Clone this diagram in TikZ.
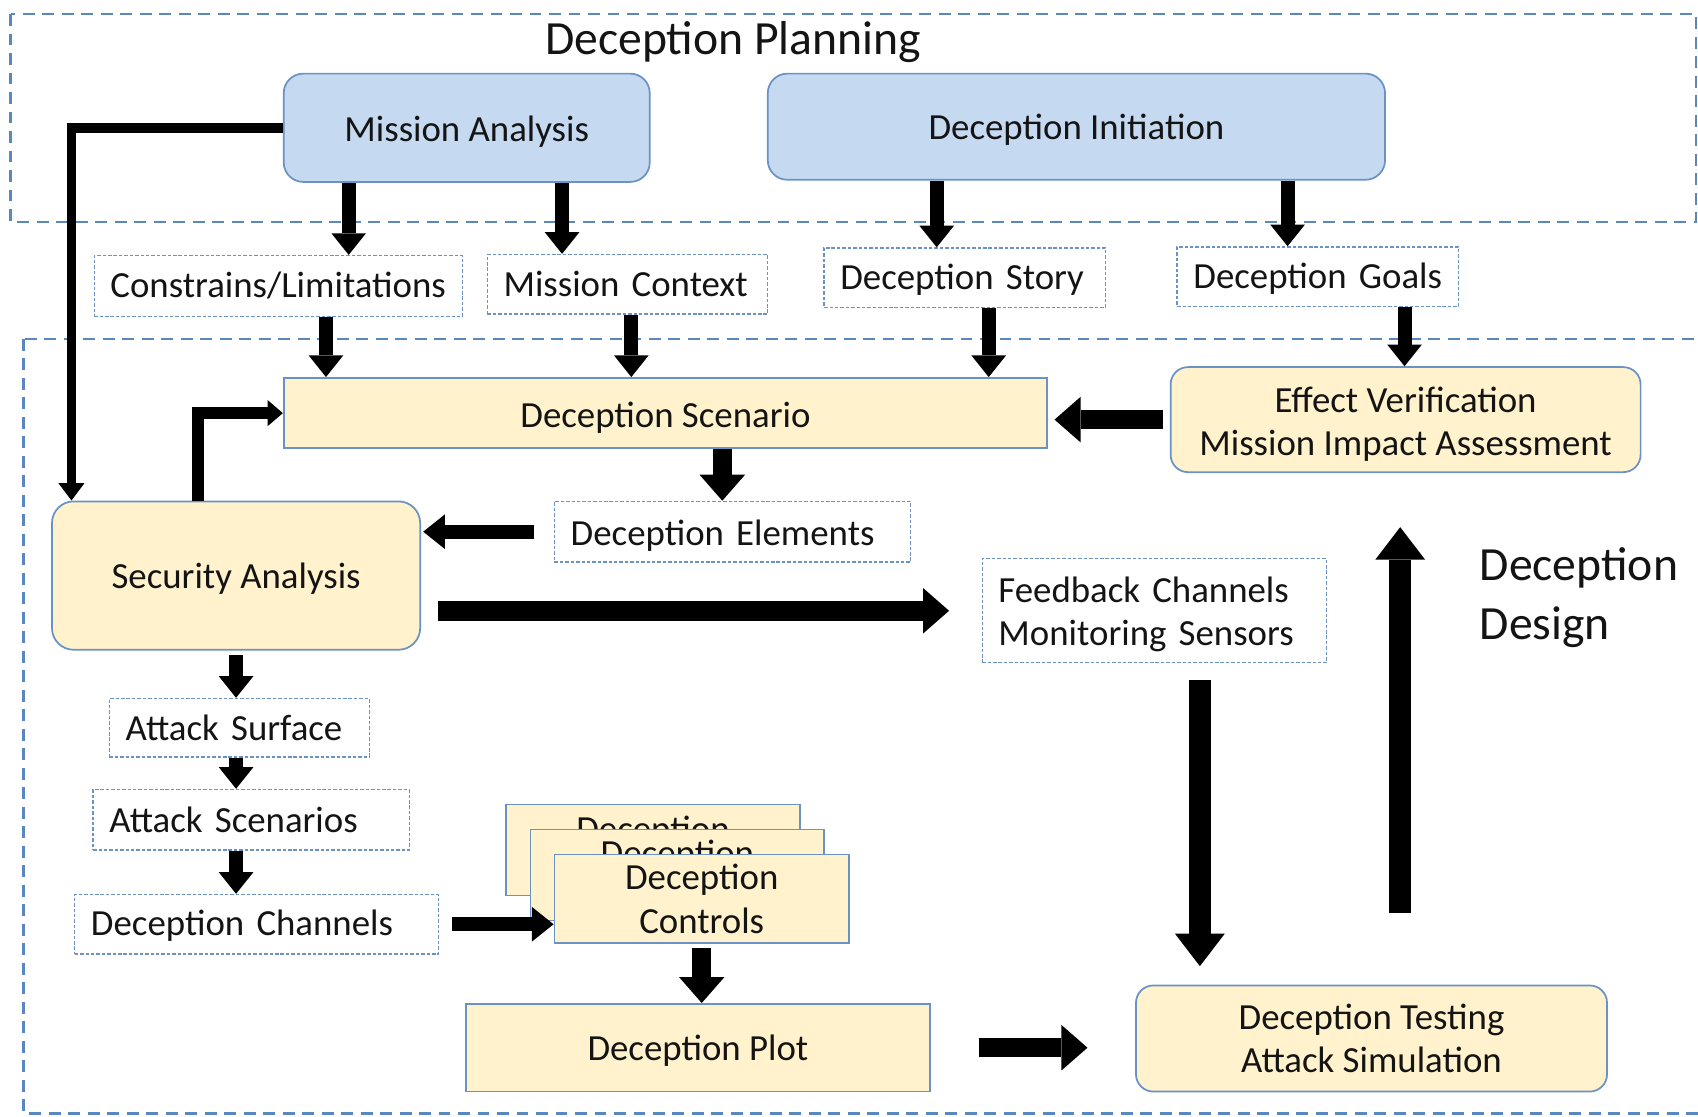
\documentclass[tikz,border=0pt]{standalone}
\usepackage{fontspec}
\setmainfont{Carlito}
\usetikzlibrary{arrows.meta}
\definecolor{regionblue}{HTML}{5A88BE}
\definecolor{edgeblue}{HTML}{6A92C4}
\definecolor{fillblue}{HTML}{C5D9F0}
\definecolor{fillyellow}{HTML}{FFF2CC}
\begin{document}
\begin{tikzpicture}[x=0.5pt,y=-0.5pt,
  every node/.style={font=\fontsize{17}{20}\selectfont, text=black!92},
  region/.style={draw=regionblue, line width=1.25pt, dash pattern=on 5.5pt off 3.5pt},
  bluebox/.style={draw=edgeblue, fill=fillblue, line width=0.8pt, rounded corners=9pt,
    inner sep=0pt, align=center},
  yelbox/.style={draw=edgeblue, fill=fillyellow, line width=0.8pt, inner sep=0pt, align=center},
  yelround/.style={yelbox, rounded corners=8pt},
  dotbox/.style={draw=edgeblue, fill=white, line width=0.6pt, dash pattern=on 1.6pt off 0.9pt,
    inner xsep=7.5pt, inner ysep=0pt, align=left},
  % lowers the first text line a little by a taller first-line strut
  lower/.style={execute at begin node={\rule{0pt}{#1}}},
  title/.style={font=\fontsize{22}{27.5}\selectfont, inner sep=0pt, align=left},
  arrS/.style={line width=6.5pt, -{Triangle[width=16pt,length=10pt,line width=0pt]}},
  arrM/.style={line width=9pt, -{Triangle[width=21pt,length=12pt,line width=0pt]}},
  arrL/.style={line width=10pt, -{Triangle[width=23pt,length=15pt,line width=0pt]}},
  arrT/.style={line width=4.5pt, -{Triangle[width=12pt,length=8pt,line width=0pt]}},
  arrE/.style={line width=5.5pt, -{Triangle[width=12pt,length=7pt,line width=0pt]}},
]
\useasboundingbox (0,0) rectangle (1568,1031);

% planning and design regions
\draw[region] (10,13) rectangle (1566,205);
\draw[region] (22,313) rectangle (1572,1028);
\node[title] (tplan) at (677,39) {Deception Planning};
\node[title, anchor=west] (tdesign) at (1366,552) {Deception\\Design};

% planning stage
\node[bluebox, lower=15pt, minimum width=169pt, minimum height=50pt] (MA) at (431,118) {Mission Analysis};
\node[bluebox, lower=15pt, minimum width=285pt, minimum height=49pt] (DI) at (994,117) {Deception Initiation};

% planning outputs
\node[dotbox, minimum height=28pt, text width=155pt] (CL) at (257,264) {Constrains/Limitations};
\node[dotbox, minimum height=27.5pt, text width=114.5pt] (MC) at (579.5,262.5) {Mission Context};
\node[dotbox, lower=14pt, minimum height=27.5pt, text width=115pt] (DSt) at (891,256.5) {Deception Story};
\node[dotbox, lower=14pt, minimum height=27.5pt, text width=115pt] (DG) at (1217,255.5) {Deception Goals};

% design stage
\node[yelbox, lower=16pt, minimum width=352.5pt, minimum height=32.5pt] (DSc) at (614.5,381.5) {Deception Scenario};
\node[yelround, minimum width=217pt, minimum height=48.5pt] (EV) at (1298,387.5) {\rule{0pt}{16pt}Effect Verification\\Mission Impact Assessment};
\node[dotbox, lower=15.5pt, minimum height=28pt, text width=149.5pt] (DE) at (676.5,491) {Deception Elements};
\node[yelround, lower=15pt, rounded corners=10pt, minimum width=170pt, minimum height=68.5pt] (SA) at (218,531.5) {Security Analysis};
\node[dotbox, lower=15pt, minimum height=48pt, text width=144pt] (FB) at (1066,564) {Feedback Channels\\Monitoring Sensors};
\node[dotbox, minimum height=27pt, text width=105pt] (AS) at (221,672) {Attack Surface};
\node[dotbox, minimum height=28pt, text width=131pt] (ASc) at (232,757) {Attack Scenarios};
\node[dotbox, lower=13.5pt, minimum height=27.5pt, text width=153pt] (DCh) at (237,853.5) {Deception Channels};

% stacked deception controls
\node[yelbox, minimum width=136pt, minimum height=42pt] (CtrlA) at (603,785) {Deception\\\phantom{Controls}};
\node[yelbox, minimum width=135.5pt, minimum height=42pt] (CtrlB) at (625.5,808) {Deception\\\phantom{Controls}};
\node[yelbox, minimum width=136pt, minimum height=41pt] (Ctrl) at (648,830) {Deception\\Controls};

\node[yelbox, lower=15pt, minimum width=214.5pt, minimum height=40.5pt] (DP) at (644.5,967.5) {Deception Plot};
\node[yelround, minimum width=217.5pt, minimum height=49pt] (DT) at (1266.5,959) {Deception Testing\\Attack Simulation};

% connectors from the planning stage
\draw[arrS] (322,0 |- MA.south) -- (322,0 |- CL.north);
\draw[arrS] (519,0 |- MA.south) -- (519,0 |- MC.north);
\draw[arrS] (865,0 |- DI.south) -- (865,0 |- DSt.north);
\draw[arrS] (1189,0 |- DI.south) -- (1189,0 |- DG.north);
\draw[arrS] (301,0 |- CL.south) -- (301,0 |- DSc.north);
\draw[arrS] (583,0 |- MC.south) -- (583,0 |- DSc.north);
\draw[arrS] (913,0 |- DSt.south) -- (913,0 |- DSc.north);
\draw[arrS] (1297,0 |- DG.south) -- (1297,0 |- EV.north);
\draw[arrT, line join=miter] (MA.west) -| (66,0 |- SA.north);

% connectors within the design stage
\draw[arrM, shorten <=3pt, shorten >=3pt] (EV.west) -- (DSc.east |- EV.west);
\draw[arrM] (667,0 |- DSc.south) -- (667,0 |- DE.north);
\draw[arrS, shorten <=9pt, shorten >=1pt] (DE.west) -- (SA.east |- DE.west);
\draw[arrE, line join=miter] (183,0 |- SA.north) |- (DSc.west);
\draw[arrM, shorten <=8pt, shorten >=15pt] (SA.east |- FB.west) -- (FB.west);
\draw[arrS, shorten <=2pt] (SA.south) -- (SA.south |- AS.north);
\draw[arrS] (218,0 |- AS.south) -- (218,0 |- ASc.north);
\draw[arrS] (218,0 |- ASc.south) -- (218,0 |- DCh.north);
\draw[arrS, shorten <=6pt] (DCh.east) -- (Ctrl.west |- DCh.east);
\draw[arrM, shorten <=2pt] (Ctrl.south) -- (Ctrl.south |- DP.north);
\draw[arrM, shorten <=22pt, shorten >=22pt] (DP.east) -- (DT.west |- DP.east);
\draw[arrL, shorten <=7.5pt, shorten >=8.5pt] (1108,0 |- FB.south) -- (1108,0 |- DT.north);
\draw[arrL, shorten <=33pt, shorten >=25pt] (1293,0 |- DT.north) -- (1293,0 |- EV.south);
\end{tikzpicture}
\end{document}
